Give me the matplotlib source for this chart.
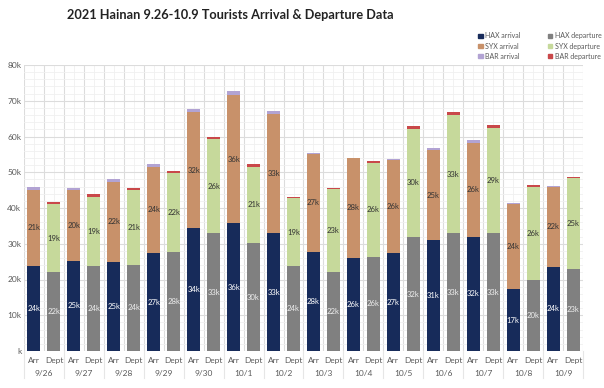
import matplotlib.pyplot as plt
import matplotlib.transforms as mtransforms
from matplotlib.patches import Patch
import numpy as np

plt.rcParams['font.family'] = ['Lato', 'DejaVu Sans']

# data, in thousands of people
dates = ['9/26', '9/27', '9/28', '9/29', '9/30', '10/1', '10/2',
         '10/3', '10/4', '10/5', '10/6', '10/7', '10/8', '10/9']
hax_arr = [23.9, 25.2, 24.9, 27.4, 34.4, 35.7, 33.0, 27.7, 26.1, 27.4, 31.0, 32.0, 17.3, 23.6]
syx_arr = [21.2, 19.8, 22.4, 24.2, 32.4, 36.0, 33.3, 27.4, 27.8, 26.0, 25.1, 26.2, 23.9, 22.2]
bar_arr = [0.7, 0.5, 0.7, 0.6, 1.0, 1.0, 0.8, 0.3, 0.2, 0.4, 0.8, 0.9, 0.1, 0.3]
hax_dep = [22.0, 23.7, 24.1, 27.7, 33.0, 30.2, 23.7, 22.0, 26.3, 31.8, 32.9, 32.9, 19.8, 23.0]
syx_dep = [19.0, 19.4, 20.8, 22.1, 26.3, 21.4, 19.0, 23.3, 26.4, 30.4, 33.0, 29.4, 26.1, 25.3]
bar_dep = [0.6, 0.7, 0.7, 0.5, 0.7, 0.8, 0.4, 0.2, 0.4, 0.6, 1.0, 1.0, 0.4, 0.5]

c_hax_a = '#172b5a'
c_hax_d = '#808080'
c_syx_a = '#c8916a'
c_syx_d = '#c6d99b'
c_bar_a = '#b2a3d3'
c_bar_d = '#c9484a'

fig = plt.figure(figsize=(6.04, 3.88), dpi=100)
ax = fig.add_axes([24/604, 1-351/388, 559/604, 286/388])

n = len(dates)
xa = np.arange(n) * 2
xd = xa + 1
w = 0.65

ha = np.array(hax_arr); sa = np.array(syx_arr); ba = np.array(bar_arr)
hd = np.array(hax_dep); sd = np.array(syx_dep); bd = np.array(bar_dep)

b1 = ax.bar(xa, ha, w, color=c_hax_a, zorder=3)
b2 = ax.bar(xa, sa, w, bottom=ha, color=c_syx_a, zorder=3)
ax.bar(xa, ba, w, bottom=ha+sa, color=c_bar_a, zorder=3)
b4 = ax.bar(xd, hd, w, color=c_hax_d, zorder=3)
b5 = ax.bar(xd, sd, w, bottom=hd, color=c_syx_d, zorder=3)
ax.bar(xd, bd, w, bottom=hd+sd, color=c_bar_d, zorder=3)

# value labels
for bars, vals, col in [(b1, ha, 'white'), (b4, hd, '#eeeeee'),
                        (b2, sa, '#333333'), (b5, sd, '#333333')]:
    for r, v in zip(bars, vals):
        ax.text(r.get_x() + r.get_width()/2, r.get_y() + r.get_height()/2,
                f'{int(round(v))}k', ha='center', va='center',
                fontsize=5.6, color=col, zorder=4)

ax.set_xlim(-0.5, 2*n - 0.5)
ax.set_ylim(0, 80)
ax.set_yticks(np.arange(0, 81, 10))
ax.set_yticklabels(['k'] + [f'{v}k' for v in range(10, 81, 10)])
ax.set_yticks(np.arange(0, 81, 2), minor=True)
ax.set_xticks(np.arange(2*n))
ax.set_xticklabels(['Arr', 'Dept'] * n)
ax.set_xticks(np.arange(-0.5, 2*n, 1), minor=True)

ax.tick_params(axis='both', which='both', length=0, labelsize=6, colors='#595959')
ax.tick_params(axis='x', pad=4)
ax.tick_params(axis='y', pad=2)

ax.grid(True, which='major', axis='y', color='#dcdcdc', lw=0.8, zorder=0)
ax.grid(True, which='minor', axis='y', color='#f0f0f0', lw=0.6, zorder=0)
ax.grid(True, which='minor', axis='x', color='#dcdcdc', lw=0.8, zorder=0)
ax.grid(True, which='major', axis='x', color='#f0f0f0', lw=0.6, zorder=0)
for s in ax.spines.values():
    s.set_visible(False)

# date group labels and separators
trans = mtransforms.blended_transform_factory(ax.transData, ax.transAxes)
for i, d in enumerate(dates):
    ax.text(2*i + 0.5, -22/286, d, transform=trans, ha='center', va='center',
            fontsize=6, color='#595959')
for k in range(n + 1):
    ax.plot([2*k - 0.5, 2*k - 0.5], [0, -27/286], transform=trans,
            color='#e6e6e6', lw=0.8, clip_on=False)

fig.text(230/604, 1-15/388, '2021 Hainan 9.26-10.9 Tourists Arrival & Departure Data',
         ha='center', va='center', fontsize=9.2, fontweight='bold', color='#222222')

handles = [Patch(color=c_hax_a, label='HAX arrival'),
           Patch(color=c_syx_a, label='SYX arrival'),
           Patch(color=c_bar_a, label='BAR arrival'),
           Patch(color=c_hax_d, label='HAX departure'),
           Patch(color=c_syx_d, label='SYX departure'),
           Patch(color=c_bar_d, label='BAR departure')]
fig.legend(handles=handles, ncol=2, loc='upper left',
           bbox_to_anchor=(475/604, 1-29/388), frameon=False,
           fontsize=5, handlelength=0.6, handleheight=0.6,
           handletextpad=0.4, columnspacing=3.9, labelspacing=0.45,
           labelcolor='#595959', borderpad=0)

fig.savefig('out.png', dpi=100)
